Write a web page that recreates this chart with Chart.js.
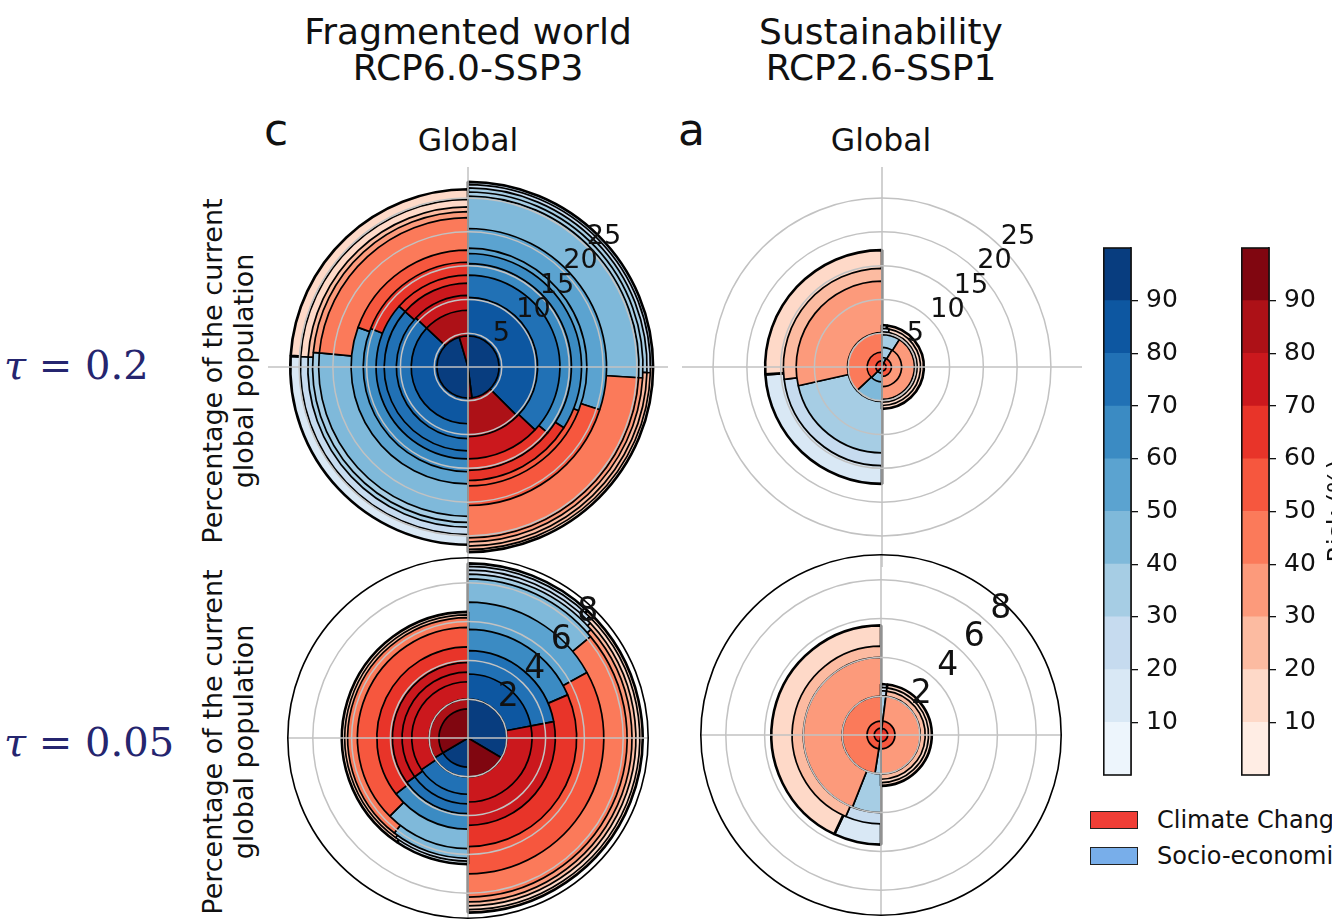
<!DOCTYPE html>
<html>
<head>
<meta charset="utf-8">
<script src="https://cdn.jsdelivr.net/npm/chart.js@4.4.1/dist/chart.umd.min.js"></script>
<style>
html,body{margin:0;padding:0;background:#fff;}
body{width:1332px;height:922px;overflow:hidden;position:relative;font-family:"DejaVu Sans",sans-serif;color:#111;}
canvas{position:absolute;}
.txt{position:absolute;white-space:nowrap;}
.title{font-size:36px;line-height:36px;text-align:center;width:440px;}
.glob{font-size:31.5px;line-height:36px;text-align:center;width:200px;}
.panel{font-size:44px;line-height:48px;}
.ylab{width:420px;height:62px;line-height:31px;font-size:27px;text-align:center;transform:rotate(-90deg);}
.tau{font-family:"DejaVu Serif",serif;font-size:40px;line-height:44px;color:#25256f;}
.leg{font-size:24px;line-height:26px;}
.sw{position:absolute;width:46px;height:16px;border:1px solid #222;}
</style>
</head>
<body>

<div class="txt title" style="left:248px;top:14px;">Fragmented world<br>RCP6.0-SSP3</div>
<div class="txt title" style="left:661px;top:14px;">Sustainability<br>RCP2.6-SSP1</div>
<div class="txt panel" style="left:264px;top:106px;">c</div>
<div class="txt panel" style="left:678px;top:106px;">a</div>
<div class="txt glob" style="left:368px;top:122px;">Global</div>
<div class="txt glob" style="left:781px;top:122px;">Global</div>
<div class="txt ylab" style="left:17.5px;top:340px;">Percentage of the current<br>global population</div>
<div class="txt ylab" style="left:17.5px;top:711px;">Percentage of the current<br>global population</div>
<div class="txt tau" style="left:4px;top:343px;"><i>τ</i> = 0.2</div>
<div class="txt tau" style="left:4px;top:720px;"><i>τ</i> = 0.05</div>

<canvas id="pTL" width="400" height="400" style="left:268px;top:167px;"></canvas>
<canvas id="pTR" width="400" height="400" style="left:682px;top:167px;"></canvas>
<canvas id="pBL" width="362" height="362" style="left:287px;top:557px;"></canvas>
<canvas id="pBR" width="362" height="362" style="left:700px;top:554px;"></canvas>

<canvas id="cbBlue" width="95" height="573" style="left:1103px;top:225px;"></canvas>
<canvas id="cbRed" width="95" height="573" style="left:1241px;top:225px;"></canvas>
<div class="txt" style="left:1237px;top:496px;width:200px;height:30px;line-height:30px;font-size:25px;text-align:center;transform:rotate(-90deg);">Risk (%)</div>

<div class="sw" style="left:1090px;top:811px;background:#ef3e36;"></div>
<div class="txt leg" style="left:1157px;top:807px;">Climate Change</div>
<div class="sw" style="left:1090px;top:847px;background:#78aeea;"></div>
<div class="txt leg" style="left:1157px;top:843px;">Socio-economic</div>

<script>
// ===================== DATA =====================
// radial tick labels (percentage of the current global population)
const topRowTicks = [5, 10, 15, 20, 25];
const bottomRowTicks = [2, 4, 6, 8];
// colorbar ticks / bins (risk %)
const riskTicks = [10, 20, 30, 40, 50, 60, 70, 80, 90];
const riskBinEdges = [0, 10, 20, 30, 40, 50, 60, 70, 80, 90, 100];

// Each half-disc is a stack of rings. For every ring:
//   *_pop     : outer edge, cumulative % of current global population
//   *_share   : % of the half-circle attributed to socio-economic drivers (rest = climate change)
//   *_socio   : risk (%) of the socio-economic part
//   *_climate : risk (%) of the climate-change part

// Panel c, tau = 0.2 (Fragmented world, RCP6.0-SSP3)
const c02R_pop     = [4.6, 10.3, 13.6, 15.3, 16.8, 17.6, 20.5, 25.3, 25.9, 26.5, 27.0, 27.4];
const c02R_share   = [96, 75, 74, 72, 68, 62, 60, 52, 52, 51, 51, 50];
const c02R_socio   = [95, 85, 75, 65, 65, 55, 55, 45, 35, 35, 25, 25];
const c02R_climate = [95, 85, 75, 65, 65, 55, 55, 45, 35, 25, 25, 15];
const c02L_pop     = [4.6, 8.4, 10.6, 12.4, 13.6, 15.5, 17.3, 22.1, 23.0, 23.7, 24.8, 26.3];
const c02L_share   = [91, 74, 74, 73, 73, 62, 61, 53, 53, 52, 52, 52];
const c02L_socio   = [95, 85, 75, 75, 75, 65, 55, 45, 35, 35, 25, 15];
const c02L_climate = [85, 85, 75, 75, 65, 65, 55, 45, 35, 25, 15, 15];

// Panel a, tau = 0.2 (Sustainability, RCP2.6-SSP1)
const a02R_pop     = [0.6, 1.4, 2.9, 4.8, 5.2, 5.7, 6.2];
const a02R_share   = [11, 14, 17, 18, 8, 6, 4];
const a02R_socio   = [45, 45, 35, 35, 25, 15, 15];
const a02R_climate = [65, 55, 35, 35, 25, 15, 15];
const a02L_pop     = [0.9, 2.2, 5.1, 12.7, 14.6, 17.3];
const a02L_share   = [25, 25, 26, 43, 46, 48];
const a02L_socio   = [45, 45, 45, 35, 25, 15];
const a02L_climate = [65, 55, 45, 35, 25, 15];

// Panel c, tau = 0.05
const c005R_pop     = [2.0, 3.3, 4.5, 5.6, 7.0, 8.2, 8.45, 8.65, 8.85, 9.0];
const c005R_share   = [67, 44, 44, 37, 34, 28, 27, 26, 25, 24];
const c005R_socio   = [95, 85, 75, 65, 55, 45, 35, 25, 25, 15];
const c005R_climate = [95, 75, 75, 65, 55, 45, 35, 25, 15, 15];
const c005L_pop     = [1.5, 2.0, 2.9, 3.4, 3.9, 4.7, 5.7, 6.2, 6.35, 6.5];
const c005L_share   = [33, 33, 31, 30, 30, 29, 25, 21, 20, 19];
const c005L_socio   = [95, 85, 75, 75, 75, 65, 45, 45, 25, 15];
const c005L_climate = [95, 85, 75, 75, 75, 65, 55, 45, 25, 15];

// Panel a, tau = 0.05
const a005R_pop     = [0.35, 0.72, 2.02, 2.28, 2.45, 2.62];
const a005R_share   = [4, 4, 4, 4, 4, 4];
const a005R_socio   = [35, 35, 35, 25, 15, 15];
const a005R_climate = [65, 55, 35, 25, 15, 15];
const a005L_pop     = [0.35, 0.72, 2.0, 4.0, 4.58, 5.65];
const a005L_share   = [5, 5, 5, 12, 13, 14];
const a005L_socio   = [35, 35, 35, 35, 25, 15];
const a005L_climate = [65, 55, 45, 35, 25, 15];

// ===================== STYLE =====================
const BLUES = ['#edf5fc','#d9e8f5','#c6dbef','#a6cde4','#7fb9da','#5ba3d0','#3b8bc3','#2171b5','#0d57a1','#083d7f'];
const REDS  = ['#ffede4','#fed9c8','#fcbba1','#fc9a7b','#fb7a5a','#f6573e','#e83429','#cb181d','#ad1117','#800610'];
const binOf = v => Math.max(0, Math.min(9, Math.floor(v / 10)));
const blueOf = v => BLUES[binOf(v)];
const redOf = v => REDS[binOf(v)];
const CLEAR = 'rgba(0,0,0,0)';
const GRID = '#c2c2c2';

function ringDatasets(side, pop, share, socio, climate) {
  return pop.map((r, i) => {
    const sDeg = share[i] / 100 * 180;
    const cDeg = 180 - sDeg;
    const bw = (i === pop.length - 1) ? 2.6 : 1.7;
    if (side === 'R') {
      return { data: [r, r, 0], sectorAngles: [sDeg, cDeg, 180],
        backgroundColor: [blueOf(socio[i]), redOf(climate[i]), CLEAR],
        borderWidth: [bw, bw, 0], _rad: r };
    }
    return { data: [0, r, r], sectorAngles: [180, sDeg, cDeg],
      backgroundColor: [CLEAR, blueOf(socio[i]), redOf(climate[i])],
      borderWidth: [0, bw, bw], _rad: r };
  });
}

const radialLabels = {
  id: 'radialLabels',
  afterDraw(chart, args, o) {
    const s = chart.scales.r, ctx = chart.ctx;
    ctx.save();
    if (o.spine) {
      ctx.beginPath();
      ctx.arc(s.xCenter, s.yCenter, s.drawingArea - 0.8, 0, Math.PI * 2);
      ctx.lineWidth = 1.6; ctx.strokeStyle = '#000'; ctx.stroke();
    }
    ctx.font = o.size + 'px "DejaVu Sans"';
    ctx.fillStyle = '#111';
    ctx.textAlign = 'left';
    ctx.textBaseline = 'alphabetic';
    const a = o.angle * Math.PI / 180;
    o.values.forEach(v => {
      const d = s.getDistanceFromCenterForValue(v) + o.offset;
      ctx.fillText(String(v), s.xCenter + d * Math.sin(a), s.yCenter - d * Math.cos(a));
    });
    ctx.restore();
  }
};

function polarPanel(id, rmax, step, tickVals, lab, right, left) {
  const ds = right.concat(left).sort((p, q) => p._rad - q._rad);
  ds.forEach(d => { d.angle = c => c.dataset.sectorAngles[c.dataIndex]; d.borderColor = '#000'; });
  new Chart(document.getElementById(id), {
    type: 'polarArea',
    data: { labels: ['', '', '', ''], datasets: ds },
    options: {
      responsive: false, animation: false, events: [],
      layout: { padding: 0 },
      plugins: { legend: { display: false }, tooltip: { enabled: false },
        radialLabels: Object.assign({ values: tickVals }, lab) },
      scales: { r: {
        min: 0, max: rmax, startAngle: 0,
        ticks: { display: false, stepSize: step, includeBounds: false },
        grid: { z: 1, color: GRID, lineWidth: 1.5, circular: true },
        angleLines: { display: true, color: GRID, lineWidth: 1.5 },
        pointLabels: { display: false }
      } }
    },
    plugins: [radialLabels]
  });
}

polarPanel('pTL', 29.6, 5, topRowTicks, { size: 27, angle: 44, offset: 2, spine: false },
  ringDatasets('R', c02R_pop, c02R_share, c02R_socio, c02R_climate),
  ringDatasets('L', c02L_pop, c02L_share, c02L_socio, c02L_climate));
polarPanel('pTR', 29.6, 5, topRowTicks, { size: 27, angle: 44, offset: 2, spine: false },
  ringDatasets('R', a02R_pop, a02R_share, a02R_socio, a02R_climate),
  ringDatasets('L', a02L_pop, a02L_share, a02L_socio, a02L_climate));
polarPanel('pBL', 9.33, 2, bottomRowTicks, { size: 33, angle: 43, offset: 5, spine: true },
  ringDatasets('R', c005R_pop, c005R_share, c005R_socio, c005R_climate),
  ringDatasets('L', c005L_pop, c005L_share, c005L_socio, c005L_climate));
polarPanel('pBR', 9.33, 2, bottomRowTicks, { size: 33, angle: 43, offset: 5, spine: true },
  ringDatasets('R', a005R_pop, a005R_share, a005R_socio, a005R_climate),
  ringDatasets('L', a005L_pop, a005L_share, a005L_socio, a005L_climate));

// ===================== COLORBARS =====================
const frame = {
  id: 'frame',
  afterDraw(chart) {
    const a = chart.chartArea, ctx = chart.ctx;
    ctx.save(); ctx.strokeStyle = '#111'; ctx.lineWidth = 1.6;
    ctx.strokeRect(a.left + 0.8, a.top, a.right - a.left - 0.8, a.bottom - a.top);
    ctx.restore();
  }
};
function colorbar(id, palette) {
  const datasets = palette.map((c, i) => ({
    data: [[riskBinEdges[i], riskBinEdges[i + 1]]],
    backgroundColor: c, borderWidth: 0, barPercentage: 1, categoryPercentage: 1, grouped: false
  }));
  new Chart(document.getElementById(id), {
    type: 'bar',
    data: { labels: ['Risk'], datasets },
    options: {
      responsive: false, animation: false, events: [],
      layout: { padding: { top: 20, bottom: 20, left: 0, right: 0 } },
      plugins: { legend: { display: false }, tooltip: { enabled: false } },
      scales: {
        x: { display: false },
        y: {
          position: 'right', min: 0, max: 100,
          afterFit: s => { s.width = 67; },
          ticks: { stepSize: 10, padding: 8, color: '#111', font: { size: 25, family: 'DejaVu Sans' },
            callback: v => riskTicks.includes(v) ? String(v) : '' },
          grid: { drawOnChartArea: false, drawTicks: true, tickLength: 7, lineWidth: 1.3,
            color: c => (c.tick && riskTicks.includes(c.tick.value)) ? '#111' : CLEAR },
          border: { display: true, color: '#111', width: 1.5 }
        }
      }
    },
    plugins: [frame]
  });
}
colorbar('cbBlue', BLUES);
colorbar('cbRed', REDS);
</script>
</body>
</html>
